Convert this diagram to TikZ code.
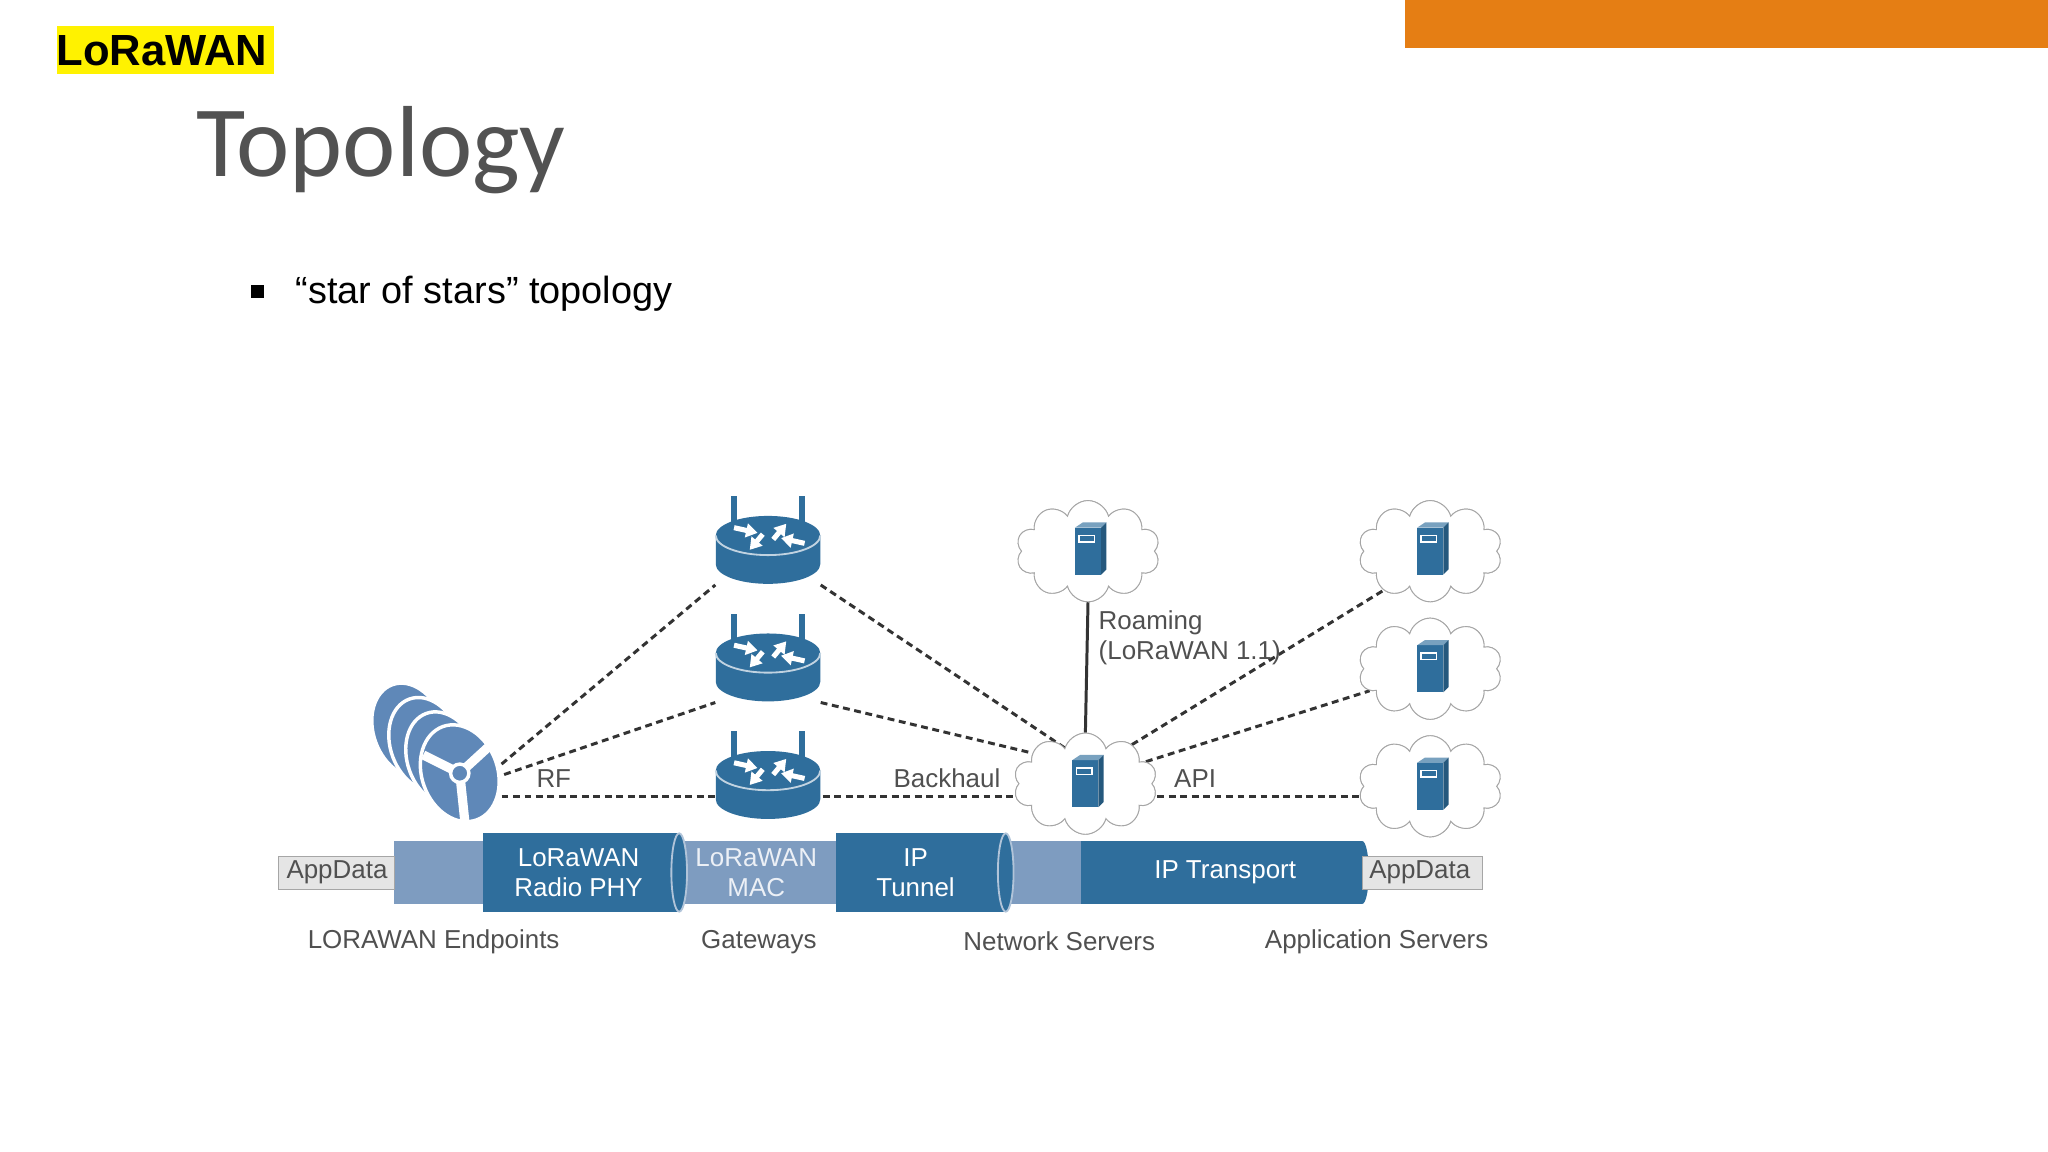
\documentclass[tikz,border=0pt]{standalone}
\usepackage{fontspec}
\setmainfont{Liberation Sans}
\newfontfamily\titlefont{Carlito}
\usetikzlibrary{shapes.symbols,arrows.meta}
\definecolor{rb}{HTML}{2F6E9C}
\definecolor{lb}{HTML}{7E9CC0}
\definecolor{eb}{HTML}{5F88B8}
\definecolor{orng}{HTML}{E57E14}
\definecolor{gtxt}{HTML}{505050}
\tikzset{
 dline/.style={line width=1.3pt, dash pattern=on 3pt off 2pt, black!80},
 dfont/.style={font=\fontsize{11.3}{13}\selectfont},
 lbl/.style={dfont, text=gtxt},
 dev/.style={inner sep=0pt, minimum width=1.6cm, minimum height=1.1cm},
 cloudn/.style={cloud, cloud puffs=10, draw=gray!70, fill=white, minimum width=2.2cm, minimum height=1.55cm, inner sep=0pt},
 router/.pic={
  \fill[rb] (-40,0) -- (-40,22) arc[start angle=180,end angle=0,x radius=40,y radius=15] -- (40,0) -- cycle;
  \fill[rb] (0,0) ellipse[x radius=40,y radius=15];
  \draw[white!70!rb, line width=0.8pt] (-40,0) arc[start angle=180,end angle=0,x radius=40,y radius=15];
  \fill[rb] (-28,-30) rectangle (-24,-10);
  \fill[rb] (24,-30) rectangle (28,-10);
  \draw[white, line width=2.2pt, -{Triangle[length=5pt,width=6pt]}] (-26,-6) -- (-8,-2);
  \draw[white, line width=2.2pt, -{Triangle[length=5pt,width=6pt]}] (4,3) -- (14,-9);
  \draw[white, line width=2.2pt, -{Triangle[length=5pt,width=6pt]}] (28,6) -- (10,2);
  \draw[white, line width=2.2pt, -{Triangle[length=5pt,width=6pt]}] (-4,-1) -- (-14,11);
 },
 server/.pic={
  \fill[rb] (-10,-18) rectangle (10,18);
  \fill[white!35!rb] (-10,-18) -- (-4,-22) -- (14,-22) -- (10,-18) -- cycle;
  \fill[rb!80!black] (10,-18) -- (14,-22) -- (14,14) -- (10,18) -- cycle;
  \draw[white, line width=0.6pt] (-7,-12) rectangle (5,-7);
 },
 disc/.pic={
  \fill[eb, draw=white, line width=1.5pt, rotate=20] (0,0) ellipse[x radius=27,y radius=37];
 },
 frontdisc/.pic={
  \fill[eb, draw=white, line width=1.5pt, rotate=20] (0,0) ellipse[x radius=29,y radius=38];
  \draw[white, line width=4pt] (0,0) -- (-28,-14) (0,0) -- (24,-22) (0,0) -- (4,38);
  \fill[eb] (0,0) circle[radius=6];
  \draw[white, line width=1.5pt] (0,0) circle[radius=7];
 }
}
\begin{document}
\begin{tikzpicture}[x=0.02cm,y=-0.02cm]
\useasboundingbox (0,0) rectangle (1568,882);
\fill[white] (0,0) rectangle (1568,882);
% header
\fill[orng] (1076,0) rectangle (1568,37);
\fill[yellow] (44,20) rectangle (210,57);
\node[font=\fontsize{19}{22}\selectfont\bfseries, anchor=center] (brand) at (124,39) {LoRaWAN};
\node[font=\titlefont\fontsize{44}{50}\selectfont, text=black!68, anchor=base west, inner sep=0pt] (title) at (150,135) {Topology};
\fill[black] (192,218) rectangle (202,228);
\node[font=\fontsize{16.5}{20}\selectfont, anchor=base west, inner sep=0pt] (bul) at (226,232) {“star of stars” topology};

% devices (named placeholders)
\node[dev] (ep) at (335,580) {};
\node[dev] (r1) at (588,420) {};
\node[dev] (r2) at (588,510) {};
\node[dev] (r3) at (588,600) {};
\node[cloudn] (c1) at (833,422) {};
\node[cloudn] (ns) at (831,600) {};
\node[cloudn] (a1) at (1095,422) {};
\node[cloudn] (a2) at (1095,512) {};
\node[cloudn] (a3) at (1095,602) {};
\coordinate (e1) at (384,585);
\coordinate (e2) at (386,593);
\coordinate (e3) at (384,610);
\coordinate (r3w) at (548,610);
\coordinate (r3e) at (630,610);
\coordinate (nsw) at (785,610);
\coordinate (nse) at (886,610);
\coordinate (a3w) at (1042,610);

% connectors
\draw[dline] (e1) -- (r1.south west);
\draw[dline] (e2) -- (r2.south west);
\draw[dline] (e3) -- (r3w);
\draw[dline] (r1.south east) -- (ns.120);
\draw[dline] (r2.south east) -- (ns.150);
\draw[dline] (r3e) -- (nsw);
\draw[dline] (ns.40) -- (a1.220);
\draw[dline] (ns.20) -- (a2.200);
\draw[dline] (nse) -- (a3w);
\draw[line width=1.3pt, black!80] (c1.south) -- (ns.north);

% redraw clouds over lines
\foreach \n in {c1,ns,a1,a2,a3}{\node[cloudn] at (\n) {};}
\foreach \n in {c1,ns,a1,a2,a3}{\pic at (\n) {server};}
\pic at (588,410) {router};
\pic at (588,500) {router};
\pic at (588,590) {router};
\foreach \k in {3,2,1}{\pic at (352-\k*13,592-\k*11) {disc};}
\pic at (352,592) {frontdisc};

% labels
\node[lbl] at (424,596) {RF};
\node[lbl] at (725,596) {Backhaul};
\node[lbl] at (915,596) {API};
\node[lbl, anchor=west, align=left] at (835,488) {Roaming\\(LoRaWAN 1.1)};

% pipe
\fill[lb] (302,644) rectangle (370,692);
\fill[lb] (520,644) rectangle (640,692);
\fill[lb] (770,644) rectangle (828,692);
\fill[rb] (370,638) rectangle (520,698);
\fill[rb] (640,638) rectangle (770,698);
\fill[rb] (828,644) rectangle (1043,692);
\foreach \x in {520,770}{\fill[rb] (\x,668) ellipse[x radius=6,y radius=30]; \draw[lb!60!white,line width=0.8pt] (\x,668) ellipse[x radius=6,y radius=30];}
\fill[rb] (1043,668) ellipse[x radius=5,y radius=24];
\fill[gray!20] (213,656) rectangle (302,681);
\fill[gray!20] (1043,656) rectangle (1135,681);
\draw[gray!70] (213,656) rectangle (302,681) (1043,656) rectangle (1135,681);
\node[lbl] (ad1) at (258,668) {AppData};
\node[lbl] (ad2) at (1087,668) {AppData};
\node[dfont, text=white, align=center] (phy) at (443,668) {LoRaWAN\\Radio PHY};
\node[dfont, text=white!85!lb, align=center] (mac) at (579,668) {LoRaWAN\\MAC};
\node[dfont, text=white, align=center] (tun) at (701,668) {IP\\Tunnel};
\node[dfont, text=white] (ipt) at (938,668) {IP Transport};

\node[lbl] at (332,721) {LORAWAN Endpoints};
\node[lbl] at (581,721) {Gateways};
\node[lbl] at (811,721) {Network Servers};
\node[lbl] at (1054,721) {Application Servers};
\end{tikzpicture}
\end{document}
